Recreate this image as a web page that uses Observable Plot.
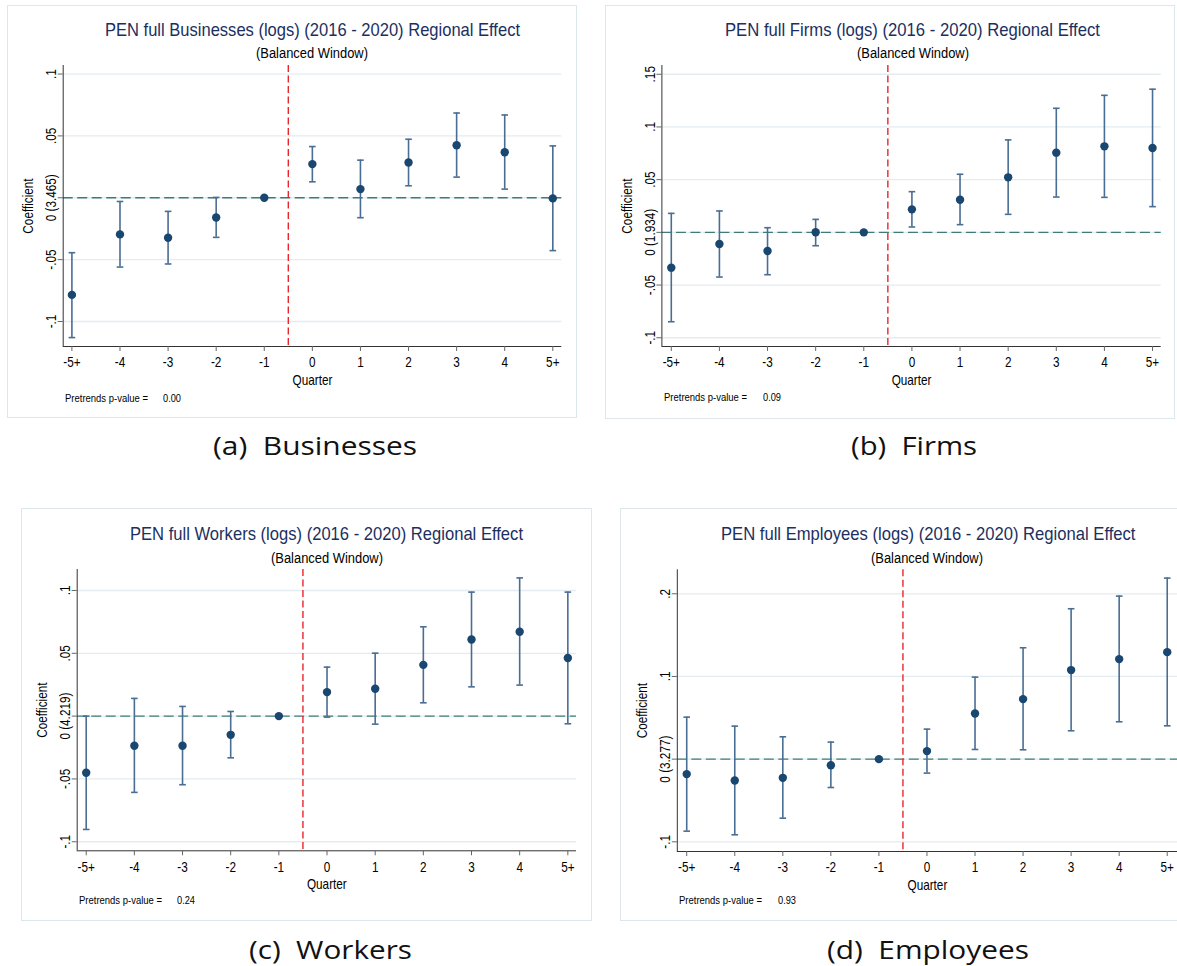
<!DOCTYPE html>
<html><head><meta charset="utf-8">
<script src="https://cdn.jsdelivr.net/npm/d3@7"></script>
<script src="https://cdn.jsdelivr.net/npm/@observablehq/plot@0.6"></script>
<style>
body{margin:0;background:#fff;}
#root{position:relative;width:1177px;height:966px;overflow:hidden;background:#fff;}
.frame{position:absolute;border:1px solid #dce7ec;box-sizing:border-box;}
.t{position:absolute;white-space:pre;line-height:1;}
.title{font-family:"Liberation Sans Narrow","Liberation Sans",Arial,sans-serif;color:#1c2f5f;font-size:18.5px;}
.sub{font-family:"Liberation Sans Narrow","Liberation Sans",Arial,sans-serif;color:#000;font-size:14px;}
.pre{font-family:"Liberation Sans Narrow","Liberation Sans",Arial,sans-serif;color:#000;font-size:10.5px;}
.cap{font-family:"Open Sans","Noto Sans",sans-serif;color:#111;font-size:26px;}
.plot{position:absolute;}
</style>
</head><body><div id="root"></div>
<script>
// ---------- data ----------
const quarters = [-5,-4,-3,-2,-1,0,1,2,3,4,5];
const quarterLabels = ["-5+","-4","-3","-2","-1","0","1","2","3","4","5+"];
const eventTime = -0.5;      // treatment onset between quarter -1 and 0
const referenceLevel = 0;

const businessesCoef = [-0.0785,-0.0296,-0.0323,-0.0159,0,0.0272,0.0070,0.0285,0.0425,0.0368,-0.0005];
const businessesLo   = [-0.1130,-0.0560,-0.0535,-0.0320,null,0.0129,-0.0161,0.0097,0.0167,0.0070,-0.0427];
const businessesHi   = [-0.0444,-0.0030,-0.0110,0.0003,null,0.0414,0.0304,0.0473,0.0685,0.0669,0.0419];

const firmsCoef = [-0.0335,-0.0111,-0.0177,0.0001,0,0.0218,0.0310,0.0522,0.0756,0.0816,0.0800];
const firmsLo   = [-0.0848,-0.0424,-0.0402,-0.0127,null,0.0051,0.0073,0.0171,0.0335,0.0332,0.0244];
const firmsHi   = [0.0180,0.0203,0.0044,0.0123,null,0.0386,0.0551,0.0877,0.1177,0.1300,0.1358];

const workersCoef = [-0.0451,-0.0236,-0.0236,-0.0149,0,0.0191,0.0218,0.0408,0.0610,0.0671,0.0462];
const workersLo   = [-0.0902,-0.0607,-0.0546,-0.0332,null,-0.0008,-0.0064,0.0106,0.0233,0.0247,-0.0061];
const workersHi   = [0.0000,0.0141,0.0077,0.0037,null,0.0390,0.0501,0.0711,0.0987,0.1100,0.0987];

const employeesCoef = [-0.0181,-0.0258,-0.0226,-0.0073,0,0.0097,0.0552,0.0726,0.1077,0.1210,0.1294];
const employeesLo   = [-0.0871,-0.0915,-0.0714,-0.0343,null,-0.0169,0.0117,0.0113,0.0343,0.0452,0.0403];
const employeesHi   = [0.0508,0.0399,0.0270,0.0206,null,0.0363,0.0992,0.1347,0.1819,0.1972,0.2190];

const titles = ["PEN full Businesses (logs) (2016 - 2020) Regional Effect",
                "PEN full Firms (logs) (2016 - 2020) Regional Effect",
                "PEN full Workers (logs) (2016 - 2020) Regional Effect",
                "PEN full Employees (logs) (2016 - 2020) Regional Effect"];
const subtitle = "(Balanced Window)";
const captions = ["(a)  Businesses","(b)  Firms","(c)  Workers","(d)  Employees"];
const zeroLabels = ["0 (3.465)","0 (1.934)","0 (4.219)","0 (3.277)"];
const pValues = ["0.00","0.09","0.24","0.93"];
const yTicksA = [-0.1,-0.05,0,0.05,0.1];
const yTicksB = [-0.1,-0.05,0,0.05,0.1,0.15];
const yTicksC = [-0.1,-0.05,0,0.05,0.1];
const yTicksD = [-0.1,0,0.1,0.2];

// ---------- layout ----------
const panels = [
  {coef:businessesCoef, lo:businessesLo, hi:businessesHi, yTicks:yTicksA,
   frame:[7,5,570,413], plot:[62.7,65,561.3,346], xDomain:[-5.181,5.187], yDomain:[-0.1202,0.1069],
   title:[312,30.7,415], sub:[311.7,53.3,112], pre:[65,398,163], cap:[315,445,204]},
  {coef:firmsCoef, lo:firmsLo, hi:firmsHi, yTicks:yTicksB,
   frame:[605,5,570,414], plot:[661.4,65,1160.7,346], xDomain:[-5.195,5.18], yDomain:[-0.1083,0.1583],
   title:[912.7,30.7,375], sub:[912.5,53.3,112], pre:[664,397,763], cap:[914,445,126]},
  {coef:workersCoef, lo:workersLo, hi:workersHi, yTicks:yTicksC,
   frame:[21,508,571,413], plot:[76.7,569,576,850.3], xDomain:[-5.187,5.18], yDomain:[-0.1072,0.1167],
   title:[326,534.3,393], sub:[326.5,557.7,112], pre:[79,900,177.4], cap:[330,949,163]},
  {coef:employeesCoef, lo:employeesLo, hi:employeesHi, yTicks:yTicksD,
   frame:[620,508,575,413], plot:[676.8,569.3,1177,851], xDomain:[-5.196,5.214], yDomain:[-0.1117,0.229],
   title:[927.8,534.3,414.5], sub:[927,557.7,112], pre:[679,900,778], cap:[928,949,202]}
];

const root = document.getElementById("root");
const fmtY = (zero) => d => d === 0 ? zero : (d < 0 ? "-" : "") + String(Math.abs(d)).replace(/^0/, "");
const fmtX = d => quarterLabels[quarters.indexOf(d)];
const capSymbol = {draw(ctx){ ctx.moveTo(-3.3,0); ctx.lineTo(3.3,0); }};

function addText(cls, text, x, y, targetW, anchor) {
  const el = document.createElement("div");
  el.className = "t " + cls;
  el.textContent = text;
  root.appendChild(el);
  const w = el.getBoundingClientRect().width, h = el.getBoundingClientRect().height;
  const s = targetW ? targetW / w : 1;
  el.style.transformOrigin = "0 50%";
  if (anchor === "start") { el.style.left = x + "px"; }
  else { el.style.left = (x - w * s / 2) + "px"; }
  el.style.top = (y - h / 2) + "px";
  el.style.transform = `scaleX(${s})`;
  return el;
}

// condense axis text (Stata uses a narrow face)
function condense(svg, k) {
  svg.querySelectorAll("g[aria-label$='tick label'] text, g[aria-label$='label'] text").forEach(t => {
    const tr = t.getAttribute("transform") || "";
    t.setAttribute("transform", tr + ` scale(${k},1)`);
  });
}

panels.forEach((p, i) => {
  const [fx, fy, fw, fh] = p.frame;
  const fr = document.createElement("div");
  fr.className = "frame";
  Object.assign(fr.style, {left: fx + "px", top: fy + "px", width: fw + "px", height: fh + "px"});
  root.appendChild(fr);

  const data = quarters.map((q, k) => ({q, coef: p.coef[k], lo: p.lo[k], hi: p.hi[k]}));
  const bars = data.filter(d => d.lo != null);
  const [px0, py0, px1, py1] = p.plot;
  const W = Math.min(fw, 1177 - fx);
  const barColor = "#4a6d93";
  const chart = Plot.plot({
    width: W, height: fh,
    marginLeft: px0 - fx, marginRight: fx + W - px1, marginTop: py0 - fy, marginBottom: fy + fh - py1,
    style: {fontFamily: '"Liberation Sans",Arial,sans-serif', fontSize: "14px", color: "#000", background: "transparent"},
    x: {type: "linear", domain: p.xDomain},
    y: {type: "linear", domain: p.yDomain},
    marks: [
      Plot.gridY(p.yTicks, {stroke: "#e3ecf0", strokeOpacity: 1, strokeWidth: 1.3}),
      Plot.ruleY([referenceLevel], {stroke: "#3d7c78", strokeDasharray: "10,4.5", strokeWidth: 1.4}),
      Plot.ruleX([eventTime], {stroke: "#e8262c", strokeDasharray: "7,3.5", strokeWidth: 1.4}),
      Plot.ruleX(bars, {x: "q", y1: "lo", y2: "hi", stroke: barColor, strokeWidth: 1.6}),
      Plot.dot(bars, {x: "q", y: "lo", symbol: capSymbol, fill: "none", stroke: barColor, strokeWidth: 1.6}),
      Plot.dot(bars, {x: "q", y: "hi", symbol: capSymbol, fill: "none", stroke: barColor, strokeWidth: 1.6}),
      Plot.dot(data, {x: "q", y: "coef", r: 4.2, fill: "#1a476f", stroke: "none"}),
      Plot.ruleX([p.xDomain[0]], {stroke: "#333", strokeWidth: 1}),
      Plot.ruleY([p.yDomain[0]], {stroke: "#333", strokeWidth: 1}),
      Plot.axisX(quarters, {tickFormat: fmtX, tickSize: 5, tickPadding: 6, stroke: "#666", fontSize: 14,
        label: "Quarter", labelAnchor: "center", labelArrow: "none", labelOffset: 38}),
      Plot.axisY(p.yTicks, {tickFormat: fmtY(zeroLabels[i]), tickRotate: -90, tickSize: 5, tickPadding: 2, stroke: "#666", fontSize: 14,
        label: "Coefficient", labelAnchor: "center", labelArrow: "none", labelOffset: 40})
    ]
  });
  condense(chart, 0.84);
  chart.classList.add("plot");
  chart.style.left = fx + "px";
  chart.style.top = fy + "px";
  root.appendChild(chart);

  addText("title", titles[i], p.title[0], p.title[1], p.title[2]);
  addText("sub", subtitle, p.sub[0], p.sub[1], p.sub[2]);
  addText("pre", "Pretrends p-value =", p.pre[0], p.pre[1], 83, "start");
  addText("pre", pValues[i], p.pre[2], p.pre[1], 18, "start");
  addText("cap", captions[i], p.cap[0], p.cap[1], p.cap[2]);
});
</script></body></html>
